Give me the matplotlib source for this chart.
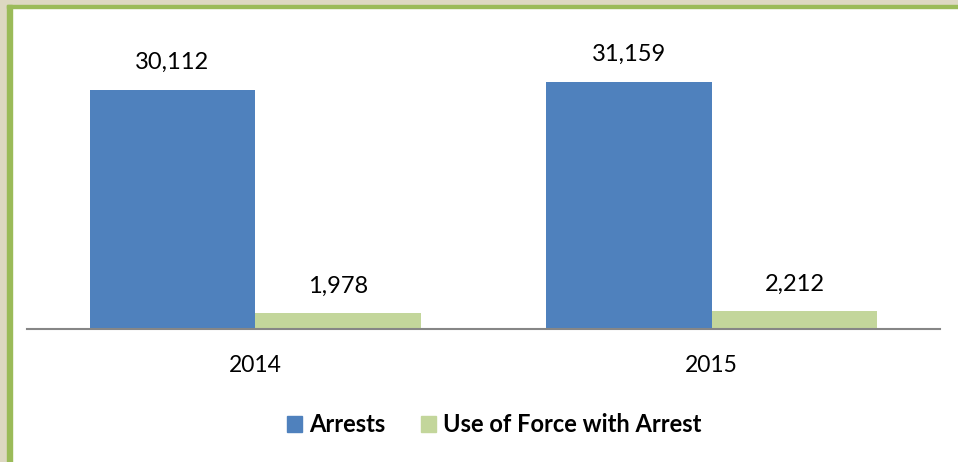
import matplotlib.pyplot as plt
from matplotlib.patches import Rectangle, Patch
import numpy as np

plt.rcParams['font.family'] = ['Lato', 'DejaVu Sans']

years = ["2014", "2015"]
arrests = [30112, 31159]
force = [1978, 2212]
series_names = ["Arrests", "Use of Force with Arrest"]
colors = ["#4F81BD", "#C3D69B"]

W, H = 958, 462
fig = plt.figure(figsize=(W / 100, H / 100), dpi=100)

# frame strips along the top and left edge
fig.patches.append(Rectangle((0, 1 - 5 / H), 1, 5 / H, transform=fig.transFigure,
                             color="#DDD8C2", zorder=0))
fig.patches.append(Rectangle((0, 0), 7 / W, 1, transform=fig.transFigure,
                             color="#DDD8C2", zorder=0))
fig.patches.append(Rectangle((7 / W, 1 - 8 / H), 1 - 7 / W, 3 / H, transform=fig.transFigure,
                             color="#9BBB59", zorder=1))
fig.patches.append(Rectangle((7 / W, 0), 5 / W, 1 - 5 / H, transform=fig.transFigure,
                             color="#9BBB59", zorder=1))

ax = fig.add_axes([27 / W, 133 / H, 913 / W, 278 / H])
x = np.arange(len(years))
bw = 0.363
b1 = ax.bar(x - bw / 2, arrests, bw, color=colors[0])
b2 = ax.bar(x + bw / 2, force, bw, color=colors[1])

for bars, vals in ((b1, arrests), (b2, force)):
    for rect, v in zip(bars, vals):
        ax.annotate(f"{v:,}", (rect.get_x() + rect.get_width() / 2, rect.get_height()),
                    xytext=(0, 19.5), textcoords="offset points",
                    ha="center", va="center", fontsize=17)

ax.set_xlim(-0.5, 1.5)
ax.set_ylim(0, 35000)
ax.set_xticks(x)
ax.set_xticklabels(years, fontsize=16.5)
ax.tick_params(axis="x", length=0, pad=19)
ax.set_yticks([])
for s in ("top", "right", "left"):
    ax.spines[s].set_visible(False)
ax.spines["bottom"].set_color("#868686")
ax.spines["bottom"].set_linewidth(1.5)

handles = [Patch(color=c, label=n) for c, n in zip(colors, series_names)]
fig.legend(handles=handles, loc="center", bbox_to_anchor=(494 / W, 1 - 425 / H),
           ncol=2, frameon=False, prop={"weight": "bold", "size": 17},
           handlelength=0.64, handleheight=0.64, handletextpad=0.3, columnspacing=1.5)

fig.savefig("out.png", dpi=100)
